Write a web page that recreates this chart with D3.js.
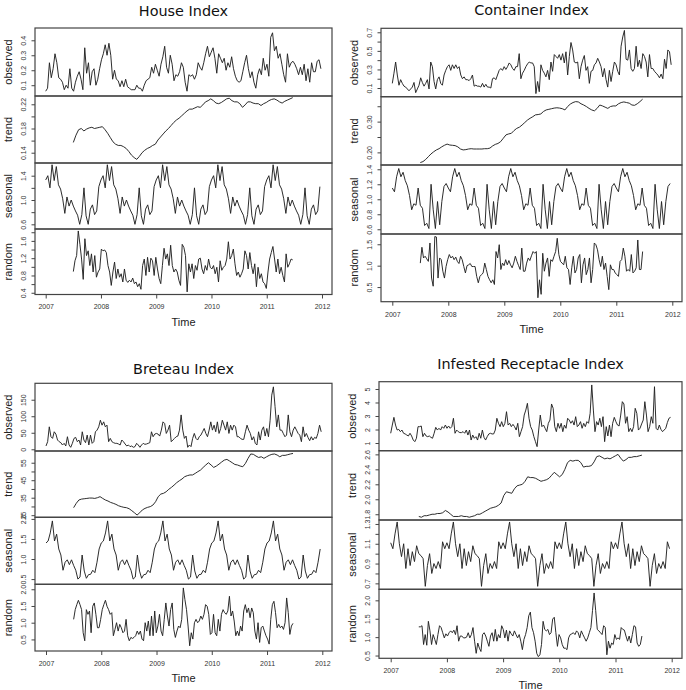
<!DOCTYPE html>
<html>
<head>
<meta charset="utf-8">
<script src="https://cdn.jsdelivr.net/npm/d3@7"></script>
<style>
  body { margin: 0; background: #fff; }
</style>
</head>
<body>
<div id="chart"></div>
<script>
// time axis
var years = [2007, 2008, 2009, 2010, 2011, 2012];
var obsSpan = [2007, 2011.98];      // observed series run the full 5 years
var compSpan = [2007.5, 2011.47];   // trend / random lose half a year at each end
var cyclesPerSeries = 5;
var cycleLength = 26;               // seasonal figure, one value every two weeks

// ---- House Index ----
var houseObserved = [0.06,0.08,0.25,0.15,0.21,0.31,0.25,0.15,0.14,0.12,0.07,0.10,0.08,0.21,0.08,0.06,0.12,0.16,0.19,0.14,0.07,0.35,0.18,0.25,0.10,0.19,0.21,0.10,0.14,0.21,0.27,0.31,0.37,0.30,0.38,0.30,0.14,0.20,0.14,0.13,0.09,0.13,0.09,0.14,0.09,0.08,0.07,0.07,0.07,0.10,0.08,0.08,0.06,0.10,0.13,0.14,0.15,0.22,0.18,0.24,0.20,0.16,0.24,0.29,0.36,0.22,0.18,0.30,0.24,0.13,0.17,0.16,0.19,0.25,0.22,0.12,0.06,0.17,0.16,0.17,0.14,0.17,0.25,0.22,0.20,0.25,0.31,0.36,0.29,0.32,0.35,0.28,0.18,0.31,0.28,0.25,0.28,0.20,0.25,0.22,0.29,0.21,0.16,0.13,0.12,0.13,0.19,0.25,0.30,0.21,0.15,0.19,0.12,0.08,0.17,0.21,0.17,0.28,0.20,0.24,0.16,0.42,0.45,0.33,0.36,0.28,0.31,0.24,0.17,0.12,0.31,0.22,0.25,0.26,0.24,0.21,0.17,0.22,0.17,0.24,0.13,0.21,0.12,0.25,0.19,0.19,0.26,0.27,0.21];
var houseTrend = [0.157,0.169,0.178,0.180,0.176,0.179,0.181,0.182,0.180,0.181,0.182,0.183,0.178,0.172,0.165,0.158,0.154,0.152,0.152,0.150,0.147,0.142,0.136,0.132,0.129,0.134,0.140,0.144,0.147,0.149,0.152,0.154,0.161,0.166,0.171,0.176,0.180,0.185,0.190,0.194,0.197,0.201,0.205,0.209,0.212,0.212,0.214,0.216,0.215,0.219,0.224,0.226,0.229,0.226,0.222,0.221,0.223,0.226,0.229,0.230,0.226,0.224,0.224,0.221,0.215,0.219,0.224,0.224,0.222,0.221,0.221,0.218,0.221,0.223,0.226,0.228,0.229,0.227,0.224,0.222,0.225,0.227,0.229,0.231];
var houseSeasonCycle = [1.33,1.40,1.20,1.58,1.32,1.55,1.25,1.18,1.02,0.78,1.05,0.90,1.00,0.90,0.82,0.75,0.60,0.76,1.20,0.74,0.60,0.85,0.92,0.76,0.82,1.22];
var houseRandom = [0.89,1.14,1.26,1.83,1.52,1.18,0.71,1.65,1.26,1.37,1.03,1.30,0.88,1.26,0.76,0.88,0.95,1.41,1.37,1.39,1.33,1.03,0.88,0.57,0.88,1.11,0.73,0.95,0.76,0.84,0.65,0.95,0.69,0.64,0.69,0.65,0.74,0.61,0.65,0.54,0.61,0.48,1.03,1.18,0.80,1.22,0.88,1.20,1.14,0.80,1.22,0.95,0.73,0.61,1.03,1.43,1.18,1.30,1.03,1.50,1.03,0.88,0.95,0.88,0.69,0.57,1.52,1.45,1.26,0.42,1.07,0.88,1.07,0.73,1.03,0.92,1.18,1.20,0.95,0.84,1.03,0.92,1.18,0.99,0.95,1.03,0.84,0.99,0.65,1.14,0.92,0.99,1.03,1.18,1.58,1.18,1.26,1.41,1.07,0.80,0.88,0.76,0.84,0.95,1.37,1.26,0.95,1.33,1.03,0.84,1.07,0.54,0.99,0.73,0.84,0.65,0.61,0.50,0.88,1.18,1.33,1.47,1.18,0.88,1.18,0.84,0.99,0.80,0.65,1.30,0.99,1.07,1.18,1.16];

// ---- Container Index ----
var contObserved = [0.15,0.26,0.38,0.24,0.13,0.19,0.15,0.12,0.11,0.09,0.07,0.09,0.11,0.16,0.05,0.09,0.13,0.21,0.16,0.12,0.15,0.19,0.09,0.38,0.33,0.17,0.09,0.19,0.22,0.15,0.13,0.24,0.29,0.33,0.35,0.29,0.35,0.31,0.35,0.31,0.33,0.24,0.20,0.22,0.19,0.19,0.18,0.20,0.24,0.12,0.13,0.12,0.12,0.11,0.15,0.11,0.14,0.11,0.11,0.10,0.20,0.21,0.19,0.24,0.29,0.31,0.29,0.33,0.30,0.33,0.37,0.35,0.31,0.29,0.33,0.33,0.47,0.20,0.26,0.29,0.33,0.36,0.38,0.37,0.37,0.33,0.04,0.17,0.06,0.35,0.29,0.26,0.22,0.29,0.19,0.38,0.28,0.46,0.44,0.42,0.46,0.40,0.47,0.37,0.49,0.24,0.44,0.59,0.51,0.38,0.37,0.38,0.20,0.33,0.40,0.45,0.29,0.33,0.15,0.28,0.29,0.35,0.37,0.42,0.38,0.33,0.22,0.31,0.19,0.11,0.29,0.17,0.28,0.38,0.35,0.28,0.24,0.55,0.65,0.72,0.41,0.40,0.51,0.31,0.28,0.31,0.55,0.33,0.40,0.31,0.47,0.44,0.38,0.22,0.46,0.31,0.31,0.28,0.26,0.24,0.21,0.25,0.20,0.41,0.31,0.51,0.49,0.35];
var contTrend = [0.167,0.170,0.177,0.186,0.195,0.202,0.208,0.212,0.218,0.223,0.227,0.224,0.223,0.222,0.218,0.211,0.208,0.209,0.211,0.212,0.211,0.211,0.211,0.211,0.212,0.212,0.214,0.221,0.226,0.229,0.235,0.246,0.257,0.260,0.262,0.271,0.278,0.282,0.289,0.297,0.305,0.311,0.316,0.322,0.323,0.325,0.333,0.338,0.340,0.342,0.344,0.345,0.344,0.342,0.338,0.349,0.357,0.362,0.365,0.364,0.358,0.354,0.349,0.343,0.338,0.335,0.343,0.354,0.351,0.347,0.343,0.349,0.351,0.351,0.358,0.362,0.364,0.362,0.360,0.354,0.353,0.358,0.365,0.373];
var contSeasonCycle = [1.15,1.10,1.30,1.41,1.30,1.36,1.25,1.18,1.05,0.86,0.94,0.92,1.15,0.92,0.88,0.65,0.68,0.61,1.20,0.86,0.61,0.97,0.66,0.97,1.17,1.21];
var contRandom = [1.06,1.43,1.18,1.22,1.16,1.10,1.53,0.71,0.52,1.68,1.67,0.71,1.18,1.14,0.87,0.71,0.98,1.14,1.26,1.18,1.22,1.14,1.20,1.10,1.05,1.22,1.14,0.98,0.83,1.00,1.02,1.05,0.98,0.98,0.98,0.75,0.60,0.75,0.79,0.83,1.06,0.91,0.75,0.67,0.60,0.67,0.56,1.33,1.18,1.49,0.91,1.06,1.00,1.14,1.02,1.12,1.02,0.95,1.06,1.22,1.10,1.00,0.91,1.41,0.87,0.87,1.06,1.18,1.12,1.23,1.33,1.29,1.33,0.25,0.67,0.33,1.29,0.87,1.06,1.18,0.75,1.14,1.10,1.22,1.33,1.64,1.26,1.10,1.06,1.02,1.22,0.95,0.91,0.56,0.95,1.22,0.83,0.91,1.18,1.26,0.60,1.02,1.18,0.79,0.91,1.18,0.60,0.91,1.53,1.49,1.37,1.14,0.98,1.22,0.91,1.06,0.75,0.44,1.02,0.91,0.91,0.83,0.79,0.75,1.10,1.14,1.41,1.22,0.87,0.91,0.87,1.26,0.83,0.87,0.95,1.60,0.91,0.91,1.33];

// ---- Breteau Index ----
var bretObserved = [10,23,68,38,33,53,46,28,23,20,13,18,10,38,13,6,18,33,36,23,28,13,53,28,20,43,13,43,18,23,53,58,68,88,73,83,68,73,23,33,23,20,18,18,16,13,28,23,16,10,13,8,10,6,8,18,13,6,13,18,15,16,18,20,53,38,46,48,46,40,58,83,78,48,58,73,23,28,33,38,40,58,104,58,33,40,6,13,8,33,48,33,28,38,43,53,63,48,38,58,83,58,73,53,83,48,63,88,73,58,83,48,73,58,73,68,38,38,33,30,30,53,73,58,48,28,38,18,13,53,28,58,68,40,63,38,88,164,189,129,68,104,58,58,48,38,43,104,53,38,58,68,58,48,43,23,68,38,48,36,26,38,28,36,33,48,73,53];
var bretTrend = [29.3,31.8,33.7,34.2,34.4,34.6,34.8,34.8,34.6,35.0,35.6,34.6,33.7,33.1,32.3,31.8,31.2,30.4,29.9,29.5,29.3,28.7,27.6,26.4,25.1,26.4,28.0,28.9,29.5,29.9,30.8,32.7,35.6,37.1,37.5,38.4,39.8,40.9,42.2,43.6,44.7,45.7,47.0,47.6,48.0,48.0,48.9,49.9,50.8,52.3,53.7,55.0,53.7,52.3,53.1,54.2,55.4,56.5,56.9,56.0,55.0,54.0,53.7,53.1,52.7,54.6,57.5,60.0,59.8,58.8,58.0,58.4,57.5,58.4,59.2,59.8,60.0,59.4,58.4,59.2,59.2,59.6,60.0,60.3];
var bretSeasonCycle = [1.40,1.45,1.65,1.95,1.45,1.62,1.25,1.10,0.72,0.92,0.98,0.86,0.98,0.84,0.72,0.50,0.55,1.10,0.70,0.52,0.61,0.62,0.72,0.66,0.92,1.25];
var bretRandom = [1.10,1.39,1.54,1.67,1.54,1.39,0.70,0.46,1.39,1.25,1.35,0.70,1.49,1.59,1.25,0.85,0.85,1.10,1.39,1.54,1.67,1.49,1.39,1.25,1.30,0.61,0.80,1.00,0.75,0.95,0.85,0.70,0.75,1.10,0.61,0.46,0.56,0.53,0.56,0.61,0.75,0.65,0.75,0.51,0.46,1.00,0.75,1.05,0.61,1.20,0.61,1.35,0.70,0.90,1.25,0.75,0.61,1.10,1.59,1.20,0.90,1.39,1.59,0.80,0.56,0.75,0.90,0.85,1.10,2.04,1.69,1.39,0.90,0.31,0.70,0.51,1.00,1.10,1.00,1.05,1.20,1.10,1.25,1.54,1.49,1.25,0.65,0.70,1.25,0.70,0.61,1.10,0.75,1.25,1.39,1.30,1.25,1.35,1.79,1.20,1.35,1.05,0.61,0.75,0.61,0.90,0.75,1.35,1.54,1.30,1.44,1.15,1.44,1.30,0.75,0.51,1.00,0.41,0.85,0.90,0.75,0.61,0.51,0.36,1.10,1.54,1.64,1.30,0.85,0.95,0.85,0.90,0.80,1.00,1.74,1.30,0.65,0.90,0.98];

// ---- Infested Receptacle Index ----
var irObserved = [1.72,2.33,2.90,2.33,1.96,2.01,1.84,1.96,1.72,1.67,1.59,1.52,1.72,1.52,1.22,1.10,1.35,2.21,2.21,2.26,1.47,1.72,1.52,1.47,1.52,1.42,1.35,1.72,2.16,1.96,2.09,1.96,2.21,2.09,2.33,2.09,2.26,2.09,2.21,2.83,1.72,1.96,1.84,1.77,1.77,1.84,1.72,1.96,1.59,1.96,1.22,1.59,1.35,1.47,1.22,1.72,1.35,1.96,1.42,1.22,1.47,1.67,1.72,1.67,1.67,1.96,2.83,2.46,2.21,2.58,2.21,2.46,3.32,2.33,2.46,2.21,2.38,2.21,1.96,2.46,1.47,1.84,2.21,3.07,3.44,3.94,2.83,2.21,1.96,1.47,1.10,0.73,1.96,3.07,2.21,2.33,2.09,1.84,2.46,2.70,3.89,3.57,2.21,1.84,2.46,2.09,2.46,1.84,2.33,2.09,2.83,2.70,2.46,2.65,2.33,2.95,2.21,2.33,2.58,2.09,2.46,2.21,2.58,2.46,3.20,5.30,3.44,1.84,2.58,2.33,2.83,2.21,2.95,1.10,2.21,1.52,2.33,1.47,2.46,2.90,2.58,2.33,2.26,3.07,4.06,3.89,2.46,2.95,1.84,2.09,1.84,2.21,3.57,3.20,1.96,2.09,2.41,2.70,4.06,3.07,1.84,2.21,2.95,2.46,5.17,2.09,1.96,2.33,2.01,1.84,1.96,2.09,2.51,2.83,2.90];
var irTrend = [1.77,1.76,1.78,1.78,1.79,1.80,1.80,1.81,1.81,1.82,1.85,1.83,1.80,1.77,1.77,1.77,1.78,1.77,1.77,1.76,1.77,1.78,1.80,1.80,1.82,1.84,1.86,1.88,1.89,1.90,1.92,1.95,2.05,2.10,2.09,2.08,2.14,2.18,2.19,2.20,2.24,2.30,2.29,2.29,2.28,2.26,2.24,2.25,2.26,2.28,2.32,2.36,2.33,2.30,2.33,2.40,2.49,2.52,2.51,2.52,2.52,2.49,2.43,2.44,2.44,2.45,2.50,2.57,2.58,2.56,2.54,2.55,2.54,2.56,2.58,2.60,2.55,2.51,2.53,2.56,2.56,2.57,2.57,2.58,2.59];
var irSeasonCycle = [1.11,1.05,1.20,1.32,1.10,0.97,1.10,0.85,1.05,0.88,1.02,0.92,1.08,1.00,0.98,0.95,0.67,0.88,1.00,0.80,0.90,0.85,0.92,0.85,1.12,1.05];
var irRandom = [1.28,1.28,1.31,0.80,1.07,0.78,1.43,1.17,0.80,1.07,0.94,0.80,1.07,1.31,1.26,1.12,0.98,1.09,1.03,1.12,1.17,1.12,1.19,1.07,1.31,0.89,1.03,1.03,0.98,0.98,1.00,1.12,0.98,1.07,1.26,0.89,0.56,0.84,0.70,0.61,1.07,1.12,1.03,0.89,0.75,1.03,1.12,0.89,1.21,0.89,1.07,0.98,1.31,1.21,0.98,1.19,0.89,1.17,1.09,1.03,1.17,1.07,0.98,1.07,0.89,0.66,0.94,1.07,1.26,1.58,1.68,1.26,1.12,0.89,0.56,0.47,0.52,0.80,1.43,1.21,1.17,1.21,1.07,1.12,1.49,1.54,1.12,0.75,1.07,0.98,0.80,0.70,0.70,0.66,0.98,1.07,1.09,1.12,1.07,1.17,1.12,0.98,1.17,1.07,0.98,0.89,0.98,1.12,1.26,1.72,2.20,1.72,1.21,1.17,1.12,1.07,1.31,1.26,0.52,0.89,0.70,0.84,0.80,1.07,0.94,0.98,0.94,1.26,1.21,1.19,1.03,0.89,1.03,0.84,1.07,1.31,1.28,0.84,0.75,0.80,1.03];

// y tick positions and which of them R printed a label for
var houseTicks = { observed: [0.1,0.2,0.3,0.4], trend: [0.14,0.16,0.18,0.20,0.22], seasonal: [0.6,0.8,1.0,1.2,1.4], random: [0.4,0.6,0.8,1.0,1.2,1.4,1.6,1.8] };
var houseLabels = { observed: [0.1,0.2,0.3,0.4], trend: [0.14,0.18,0.22], seasonal: [0.6,1.0,1.4], random: [0.4,0.8,1.2,1.6] };
var contTicks = { observed: [0.1,0.2,0.3,0.4,0.5,0.6,0.7], trend: [0.20,0.25,0.30,0.35], seasonal: [0.6,0.8,1.0,1.2,1.4], random: [0.5,1.0,1.5] };
var contLabels = { observed: [0.1,0.3,0.5,0.7], trend: [0.20,0.30], seasonal: [0.6,0.8,1.0,1.2,1.4], random: [0.5,1.0,1.5] };
var bretTicks = { observed: [0,50,100,150], trend: [25,30,35,40,45,50,55], seasonal: [0.5,1.0,1.5,2.0], random: [0.5,1.0,1.5,2.0] };
var bretLabels = { observed: [0,50,100,150], trend: [25,35,45,55], seasonal: [0.5,1.0,1.5,2.0], random: [0.5,1.0,1.5,2.0] };
var irTicks = { observed: [1,2,3,4,5], trend: [1.8,2.0,2.2,2.4,2.6], seasonal: [0.7,0.8,0.9,1.0,1.1,1.2,1.3], random: [0.5,1.0,1.5,2.0] };
var irLabels = { observed: [1,2,3,4,5], trend: [1.8,2.0,2.2,2.4,2.6], seasonal: [0.7,0.9,1.1,1.3], random: [0.5,1.0,1.5,2.0] };

// ---------------------------------------------------------------

var W = 686, H = 690;
var svg = d3.select("#chart").append("svg")
    .attr("width", W).attr("height", H)
    .style("background", "#fff");

function toSeries(values, span) {
  var step = (span[1] - span[0]) / (values.length - 1);
  return values.map(function(v, i) { return [span[0] + i * step, v]; });
}

function seasonalSeries(cycle) {
  var n = cycle.length * cyclesPerSeries;
  var pts = [];
  for (var i = 0; i < n; i++) pts.push([2007 + i / cycleLength, cycle[i % cycle.length]]);
  return pts;
}

function panels(obs, trend, cycle, rnd, ticks, labels, fmts, domains) {
  return [
    { name: "observed", pts: toSeries(obs, obsSpan), ticks: ticks.observed, labels: labels.observed, fmt: fmts[0], domain: domains[0] },
    { name: "trend",    pts: toSeries(trend, compSpan), ticks: ticks.trend, labels: labels.trend, fmt: fmts[1], domain: domains[1] },
    { name: "seasonal", pts: seasonalSeries(cycle), ticks: ticks.seasonal, labels: labels.seasonal, fmt: fmts[2], domain: domains[2] },
    { name: "random",   pts: toSeries(rnd, compSpan), ticks: ticks.random, labels: labels.random, fmt: fmts[3], domain: domains[3] }
  ];
}

var charts = [
  { title: "House Index", titleY: 15.7, left: 35, right: 332, x0: 45.7, x1: 322,
    rows: [28, 96, 163, 229, 294.5],
    panels: panels(houseObserved, houseTrend, houseSeasonCycle, houseRandom, houseTicks, houseLabels,
      [".1f", ".2f", ".1f", ".1f"],
      [[0.028, 0.482], [0.123, 0.2337], [0.523, 1.609], [0.36, 1.875]]) },
  { title: "Container Index", titleY: 15.3, left: 381, right: 682, x0: 392.3, x1: 672.3,
    rows: [28.3, 96.7, 165, 234, 301.7],
    panels: panels(contObserved, contTrend, contSeasonCycle, contRandom, contTicks, contLabels,
      [".1f", ".2f", ".1f", ".1f"],
      [[0.0065, 0.743], [0.159, 0.381], [0.537, 1.457], [0.158, 1.74]]) },
  { title: "Breteau Index", titleY: 374.3, left: 35, right: 332, x0: 46, x1: 322.3,
    rows: [383.3, 451, 517.3, 584.3, 651],
    panels: panels(bretObserved, bretTrend, bretSeasonCycle, bretRandom, bretTicks, bretLabels,
      ["d", "d", ".1f", ".1f"],
      [[-5.2, 199.7], [23.8, 61.7], [0.37, 2.04], [0.154, 2.148]]) },
  { title: "Infested Receptacle Index", titleY: 369.3, left: 379, right: 682, x0: 390.7, x1: 671.7,
    rows: [381.7, 450.7, 520, 589.3, 658.3],
    panels: panels(irObserved, irTrend, irSeasonCycle, irRandom, irTicks, irLabels,
      ["d", ".1f", ".1f", ".1f"],
      [[0.43, 5.54], [1.723, 2.649], [0.64, 1.34], [0.425, 2.30]]) }
];

var axisFont = "'Liberation Sans', Arial, Helvetica, sans-serif";

charts.forEach(function(c) {
  var g = svg.append("g");
  var x = d3.scaleLinear().domain([2007, 2012]).range([c.x0, c.x1]);
  var mid = (c.left + c.right) / 2;

  g.append("text")
    .attr("x", mid).attr("y", c.titleY)
    .attr("text-anchor", "middle")
    .style("font-family", "'DejaVu Sans', Verdana, sans-serif")
    .style("font-size", "14.4px")
    .style("fill", "#111")
    .text(c.title);

  c.panels.forEach(function(p, j) {
    var top = c.rows[j], bottom = c.rows[j + 1];
    var y = d3.scaleLinear().domain(p.domain).range([bottom, top]);

    var line = d3.line()
      .x(function(d) { return x(d[0]); })
      .y(function(d) { return y(d[1]); });

    g.append("path")
      .datum(p.pts)
      .attr("d", line)
      .attr("fill", "none")
      .attr("stroke", "#222")
      .attr("stroke-width", 0.95)
      .attr("stroke-linejoin", "round");

    g.append("rect")
      .attr("x", c.left).attr("y", top)
      .attr("width", c.right - c.left).attr("height", bottom - top)
      .attr("fill", "none")
      .attr("stroke", "#444")
      .attr("stroke-width", 1.2);

    var f = d3.format(p.fmt);
    var ax = g.append("g")
      .attr("transform", "translate(" + c.left + ",0)")
      .call(d3.axisLeft(y)
        .tickValues(p.ticks)
        .tickSize(3.5)
        .tickFormat(function(d) {
          var show = p.labels.some(function(l) { return Math.abs(l - d) < 1e-9; });
          return show ? f(d) : "";
        }));
    ax.select(".domain").remove();
    ax.selectAll("line").attr("stroke", "#444");
    ax.selectAll("text")
      .attr("x", 0).attr("dy", null)
      .attr("text-anchor", "middle")
      .attr("transform", "translate(-9,0) rotate(-90)")
      .style("font-family", axisFont)
      .style("font-size", "7px")
      .style("fill", "#333");

    g.append("text")
      .attr("transform", "translate(" + (c.left - 23) + "," + ((top + bottom) / 2) + ") rotate(-90)")
      .attr("text-anchor", "middle")
      .style("font-family", axisFont)
      .style("font-size", "11px")
      .style("fill", "#222")
      .text(p.name);
  });

  var bottom = c.rows[c.rows.length - 1];
  var xa = g.append("g")
    .attr("transform", "translate(0," + bottom + ")")
    .call(d3.axisBottom(x).tickValues(years).tickSize(4).tickPadding(6).tickFormat(d3.format("d")));
  xa.select(".domain").remove();
  xa.selectAll("line").attr("stroke", "#444");
  xa.selectAll("text")
    .style("font-family", axisFont)
    .style("font-size", "7px")
    .style("fill", "#333");

  g.append("text")
    .attr("x", mid).attr("y", bottom + 31)
    .attr("text-anchor", "middle")
    .style("font-family", axisFont)
    .style("font-size", "11px")
    .style("fill", "#222")
    .text("Time");
});
</script>
</body>
</html>
